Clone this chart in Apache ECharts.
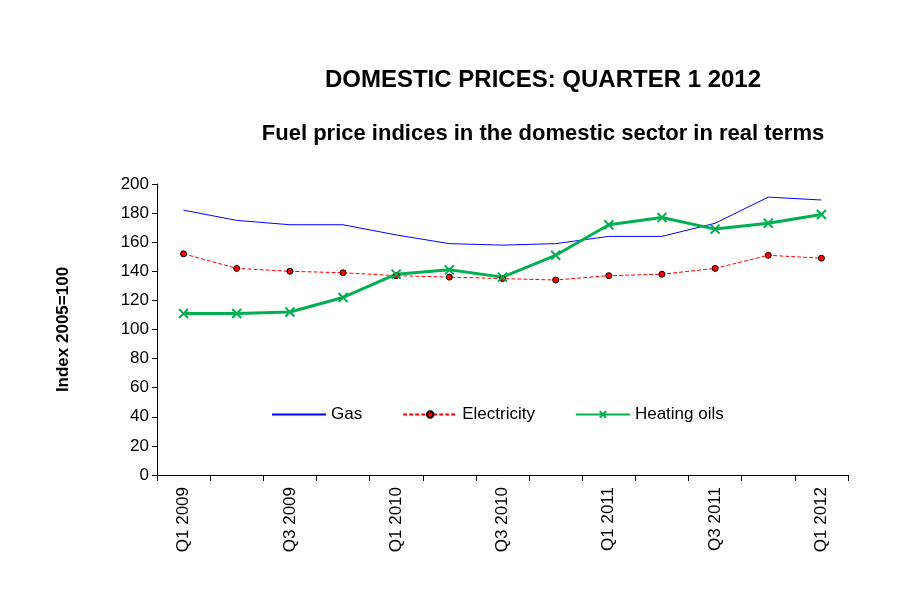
<!DOCTYPE html>
<html lang="en">
<head>
<meta charset="utf-8">
<title>Domestic prices</title>
<style>
  html, body, #myChart { width: 100%; height: 100%; margin: 0; padding: 0; overflow: hidden; background: #fff; }
</style>
</head>
<body>
<div id="myChart"></div>
<script src="https://cdn.jsdelivr.net/npm/echarts@6/dist/echarts.min.js"></script>
<script>
var quarters = ['Q1 2009', 'Q2 2009', 'Q3 2009', 'Q4 2009', 'Q1 2010', 'Q2 2010', 'Q3 2010',
    'Q4 2010', 'Q1 2011', 'Q2 2011', 'Q3 2011', 'Q4 2011', 'Q1 2012'];
var gas = [182, 175, 172, 172, 165, 159, 158, 159, 164, 164, 173, 191, 189];
var electricity = [152, 142, 140, 139, 137, 136, 135, 134, 137, 138, 142, 151, 149];
var heatingOils = [111, 111, 112, 122, 138, 141, 136, 151, 172, 177, 169, 173, 179];

var font = 'Liberation Sans, Arial, sans-serif';
var myChart = echarts.init(document.getElementById('myChart'));
myChart.setOption({
    animation: false,
    title: [
        { text: 'DOMESTIC PRICES: QUARTER 1 2012', left: 538, top: 63, textAlign: 'center',
          textStyle: { fontFamily: font, fontSize: 24, fontWeight: 'bold', color: '#000' } },
        { text: 'Fuel price indices in the domestic sector in real terms', left: 538, top: 118, textAlign: 'center',
          textStyle: { fontFamily: font, fontSize: 22, fontWeight: 'bold', color: '#000' } }
    ],
    legend: {
        top: 401, left: 266, itemGap: 40, itemWidth: 54, itemHeight: 8,
        textStyle: { fontFamily: font, fontSize: 17, color: '#000' },
        data: [
            { name: 'Gas', itemStyle: { opacity: 0 } },
            { name: 'Electricity' },
            { name: 'Heating oils' }
        ]
    },
    grid: { left: 157, right: 50, top: 184, bottom: 133 },
    xAxis: {
        type: 'category', data: quarters, boundaryGap: true,
        axisLine: { lineStyle: { color: '#000' } },
        axisTick: { show: true, interval: 0, length: 6, lineStyle: { color: '#000' } },
        axisLabel: { interval: 1, rotate: 90, color: '#000', fontFamily: font, fontSize: 17, margin: 12 }
    },
    yAxis: {
        type: 'value', min: 0, max: 200, interval: 20,
        name: 'Index 2005=100', nameLocation: 'middle', nameGap: 85, nameRotate: 90,
        nameTextStyle: { fontFamily: font, fontSize: 17, fontWeight: 'bold', color: '#000' },
        axisLine: { show: true, lineStyle: { color: '#000' } },
        axisTick: { show: true, length: 5, lineStyle: { color: '#000' } },
        splitLine: { show: false },
        axisLabel: { color: '#000', fontFamily: font, fontSize: 17 }
    },
    series: [
        { name: 'Gas', type: 'line', data: gas, symbol: 'none',
          lineStyle: { color: '#0000ff', width: 1 }, itemStyle: { color: '#0000ff' } },
        { name: 'Electricity', type: 'line', data: electricity, symbol: 'circle', symbolSize: 6,
          lineStyle: { color: '#ff0000', width: 1, type: [4, 2] },
          itemStyle: { color: '#ff0000', borderColor: '#000', borderWidth: 1 } },
        { name: 'Heating oils', type: 'line', data: heatingOils,
          symbol: 'path://M0,0L10,10M10,0L0,10', symbolSize: 9,
          lineStyle: { color: '#00b050', width: 3 },
          itemStyle: { color: 'none', borderColor: '#00b050', borderWidth: 2 } }
    ]
});
</script>
</body>
</html>
